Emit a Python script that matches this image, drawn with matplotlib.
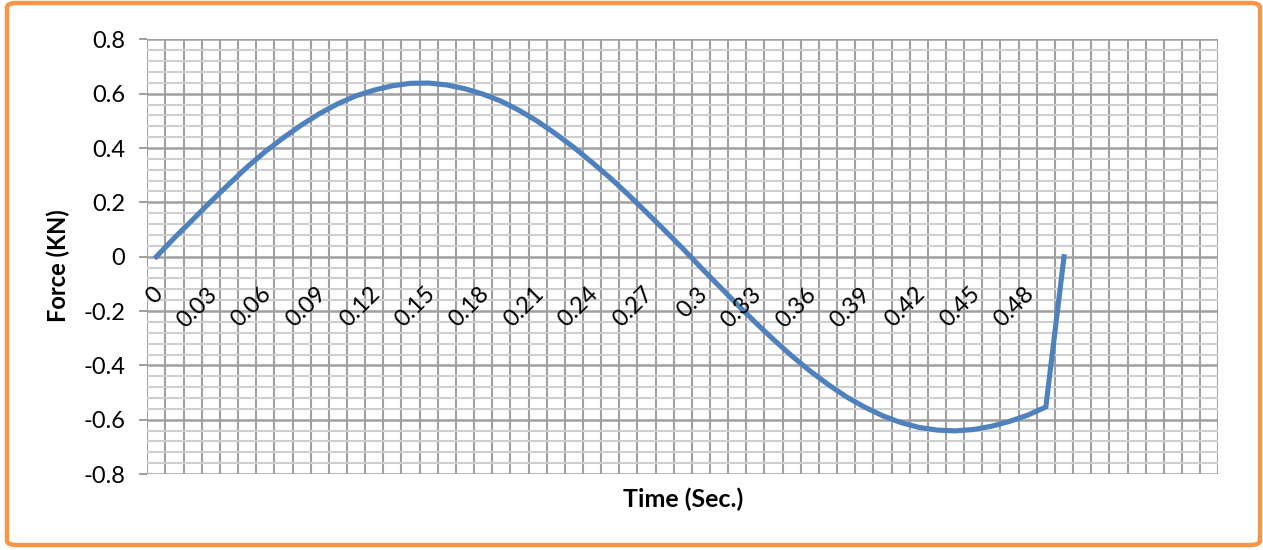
import numpy as np
import matplotlib
matplotlib.use("Agg")
import matplotlib.pyplot as plt
import matplotlib.transforms as mtransforms
from matplotlib.patches import FancyBboxPatch
from matplotlib.ticker import MultipleLocator, FixedLocator, NullLocator

# time steps (s) and measured force (kN)
time = [round(0.01 * i, 2) for i in range(51)]
force = [0.00, 0.07, 0.136, 0.203, 0.267, 0.33, 0.387, 0.438, 0.485, 0.527,
         0.563, 0.592, 0.613, 0.629, 0.638, 0.639, 0.632, 0.618, 0.598, 0.572,
         0.538, 0.498, 0.452, 0.402, 0.347, 0.29, 0.228, 0.163, 0.097, 0.03,
         -0.04, -0.108, -0.176, -0.242, -0.305, -0.365, -0.42, -0.47, -0.515, -0.553,
         -0.585, -0.61, -0.628, -0.638, -0.641, -0.636, -0.624, -0.606, -0.583, -0.553,
         0.00]
y_ticks = [-0.8, -0.6, -0.4, -0.2, 0, 0.2, 0.4, 0.6, 0.8]
n_slots = 59          # category slots on the axis (rest are empty)
label_step = 3
last_label = 48

plt.rcParams['font.family'] = ['Lato', 'DejaVu Sans']

fig = plt.figure(figsize=(12.63, 5.5), dpi=100)
ax = fig.add_axes([147.3 / 1263, 1 - 474.1 / 550, 1071 / 1263, 434.8 / 550])

for side in ['top', 'right', 'left', 'bottom']:
    ax.spines[side].set_visible(False)

x = np.arange(len(force))
ax.plot(x, force, color='#4F81BD', lw=3.7, solid_joinstyle='round', zorder=3)

ax.set_xlim(-0.5, n_slots - 0.5)
ax.set_ylim(-0.8, 0.8)

# category labels every third step, hanging below the zero line
ax.xaxis.set_major_locator(NullLocator())
ax.xaxis.set_minor_locator(FixedLocator(np.arange(-0.5, n_slots, 1)))
ax.tick_params(axis='x', which='both', length=0, labelbottom=False)
shift = mtransforms.ScaledTranslation(3 / 100, -34 / 100, fig.dpi_scale_trans)
for i in range(0, last_label + 1, label_step):
    ax.text(i, 0, f"{time[i]:g}", transform=ax.transData + shift,
            rotation=45, rotation_mode='anchor', ha='right', va='center',
            fontsize=17, zorder=4)

ax.set_yticks(y_ticks)
ax.set_yticklabels([f"{v:g}" for v in y_ticks], fontsize=17)
ax.yaxis.set_minor_locator(MultipleLocator(0.04))
ax.tick_params(axis='y', which='major', direction='out', length=6, width=1.5,
               color='#A0A0A0', pad=10)
ax.tick_params(axis='y', which='minor', length=0)

ax.grid(axis='x', which='minor', color='#A0A0A0', lw=1.5)
ax.grid(axis='y', which='minor', color='#CFCFCF', lw=1.5)
ax.grid(axis='y', which='major', color='#A0A0A0', lw=1.8)
ax.set_axisbelow(True)

ax.set_ylabel('Force (KN)', fontsize=17, fontweight='bold')
ax.yaxis.set_label_coords(-0.072, 0.48)
ax.set_xlabel('Time (Sec.)', fontsize=18, fontweight='bold')
ax.xaxis.set_label_coords(0.5, -0.03)

# orange rounded frame around the whole chart
frame = FancyBboxPatch((7 / 1263, 5 / 550), 1253 / 1263, 542 / 550,
                       boxstyle='round,pad=0,rounding_size=0.008',
                       transform=fig.transFigure, fill=False,
                       edgecolor='#F79646', lw=3.2)
fig.patches.append(frame)

fig.savefig('out.png', dpi=100)
